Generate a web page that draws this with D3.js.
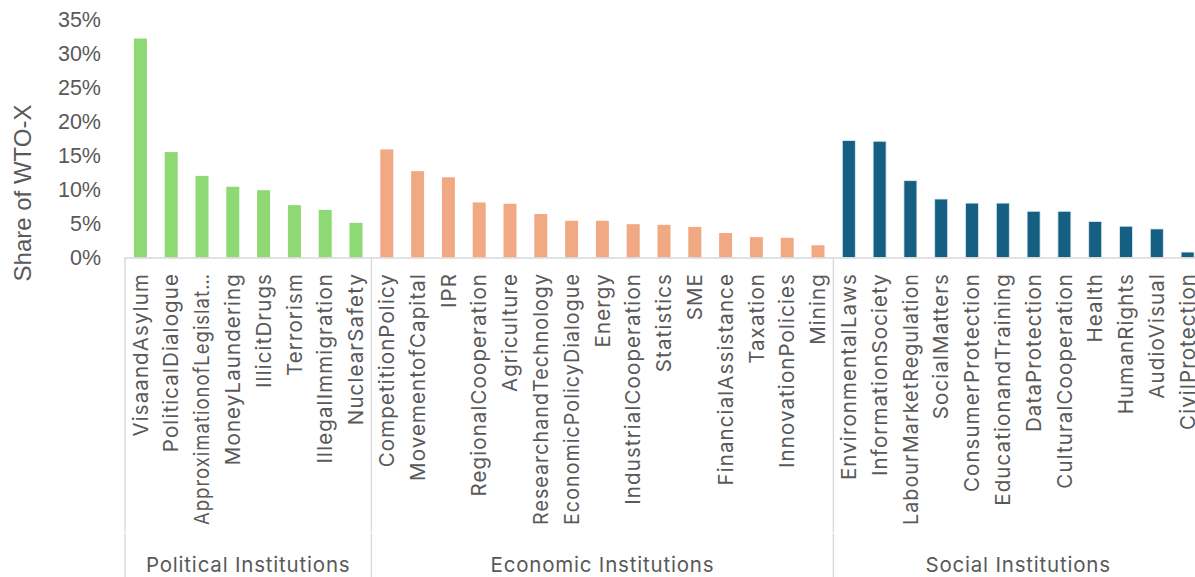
<!DOCTYPE html>
<html>
<head>
<meta charset="utf-8">
<script src="https://cdn.jsdelivr.net/npm/d3@7"></script>
<style>
  html, body { margin: 0; padding: 0; background: #ffffff; overflow: hidden; }
  svg { display: block; }
</style>
</head>
<body>
<svg id="chart" width="1195" height="577"></svg>
<script>
// ---------------- data ----------------
const groupNames = ["Political Institutions", "Economic Institutions", "Social Institutions"];

const politicalCategories = ["VisaandAsylum", "PoliticalDialogue", "ApproximationofLegislat\u2026", "MoneyLaundering",
  "IllicitDrugs", "Terrorism", "IllegalImmigration", "NuclearSafety"];
const politicalValues = [32.2, 15.5, 12.0, 10.4, 9.9, 7.7, 7.0, 5.1];

const economicCategories = ["CompetitionPolicy", "MovementofCapital", "IPR", "RegionalCooperation", "Agriculture",
  "ResearchandTechnology", "EconomicPolicyDialogue", "Energy", "IndustrialCooperation", "Statistics", "SME",
  "FinancialAssistance", "Taxation", "InnovationPolicies", "Mining"];
const economicValues = [15.9, 12.7, 11.8, 8.1, 7.9, 6.4, 5.4, 5.4, 4.9, 4.8, 4.5, 3.6, 3.0, 2.9, 1.8];

const socialCategories = ["EnvironmentalLaws", "InformationSociety", "LabourMarketRegulation", "SocialMatters",
  "ConsumerProtection", "EducationandTraining", "DataProtection", "CulturalCooperation", "Health", "HumanRights",
  "AudioVisual", "CivilProtection"];
const socialValues = [17.2, 17.1, 11.3, 8.6, 8.0, 8.0, 6.8, 6.8, 5.3, 4.6, 4.2, 0.8];

const yTicks = [0, 5, 10, 15, 20, 25, 30, 35];
const yTitle = "Share of WTO-X";

// ---------------- build ----------------
const groupColors = ["#8ED973", "#F1A983", "#156082"];
const groups = [
  { name: groupNames[0], cats: politicalCategories, vals: politicalValues, color: groupColors[0] },
  { name: groupNames[1], cats: economicCategories, vals: economicValues, color: groupColors[1] },
  { name: groupNames[2], cats: socialCategories, vals: socialValues, color: groupColors[2] }
];
const rows = [];
groups.forEach((g, gi) => g.cats.forEach((c, i) => rows.push({ key: gi + ":" + c, cat: c, value: g.vals[i], group: gi, color: g.color })));

const svg = d3.select("#chart");
const textColor = "#595959";
const axisColor = "#d9d9d9";
const catFont = "Inter, 'DejaVu Sans', sans-serif";
const numFont = "'Liberation Sans', Arial, sans-serif";

const x0 = 125, x1 = 1203;
const yBase = 257.5, yTop = 19.5;

const x = d3.scaleBand().domain(rows.map(d => d.key)).range([x0, x1]).paddingInner(0.578).paddingOuter(0.289);
const y = d3.scaleLinear().domain([0, 35]).range([yBase, yTop]);

// y tick labels
const yAxis = d3.axisLeft(y).tickValues(yTicks).tickFormat(d => d + "%").tickSize(0).tickPadding(0);
const ya = svg.append("g").attr("transform", "translate(101,0)").call(yAxis);
ya.select(".domain").remove();
ya.selectAll("text").attr("fill", textColor).style("font-family", numFont).style("font-size", "21.5px");

// y axis title
svg.append("text")
  .attr("transform", `translate(31,193) rotate(-90)`)
  .attr("text-anchor", "middle")
  .attr("fill", textColor)
  .style("font-family", numFont).style("font-size", "24px")
  .text(yTitle);

// bars
svg.append("g").selectAll("rect").data(rows).join("rect")
  .attr("x", d => x(d.key))
  .attr("width", x.bandwidth())
  .attr("y", d => y(d.value))
  .attr("height", d => y(0) - y(d.value))
  .attr("fill", d => d.color)
  .attr("stroke", d => d.group === 2 ? "#e3eef3" : "none")
  .attr("stroke-width", 0.8);

// category axis line
svg.append("line").attr("x1", x0).attr("x2", x1).attr("y1", yBase + 0.5).attr("y2", yBase + 0.5)
  .attr("stroke", axisColor).attr("stroke-width", 1.4);

// group boundaries
let idx = 0;
const bounds = [x0];
groups.forEach(g => { idx += g.cats.length; bounds.push(x0 + x.step() * idx); });
const bl = svg.append("g");
bounds.forEach(bx => {
  bl.append("line").attr("x1", bx).attr("x2", bx).attr("y1", yBase).attr("y2", 532.5)
    .attr("stroke", axisColor).attr("stroke-width", 1.4);
  bl.append("line").attr("x1", bx).attr("x2", bx).attr("y1", 533.5).attr("y2", 577)
    .attr("stroke", axisColor).attr("stroke-width", 1.4);
});

// category labels (fit into the level-1 label area)
const maxLabelLen = 252;
svg.append("g").selectAll("text").data(rows).join("text")
  .attr("transform", d => `translate(${x(d.key) + x.bandwidth() / 2},273) rotate(-90)`)
  .attr("text-anchor", "end")
  .attr("dy", "0.35em")
  .attr("fill", textColor)
  .style("font-family", catFont).style("font-size", "20.5px").style("letter-spacing", "1.1px")
  .text(d => d.cat)
  .each(function () {
    const len = this.getComputedTextLength();
    if (len > maxLabelLen) {
      d3.select(this).attr("textLength", maxLabelLen).attr("lengthAdjust", "spacingAndGlyphs");
    }
  });

// group labels
svg.append("g").selectAll("text").data(groups).join("text")
  .attr("x", (g, i) => (bounds[i] + bounds[i + 1]) / 2)
  .attr("y", 572)
  .attr("text-anchor", "middle")
  .attr("fill", textColor)
  .style("font-family", catFont).style("font-size", "20.5px").style("letter-spacing", "0.8px")
  .text(g => g.name);
</script>
</body>
</html>
